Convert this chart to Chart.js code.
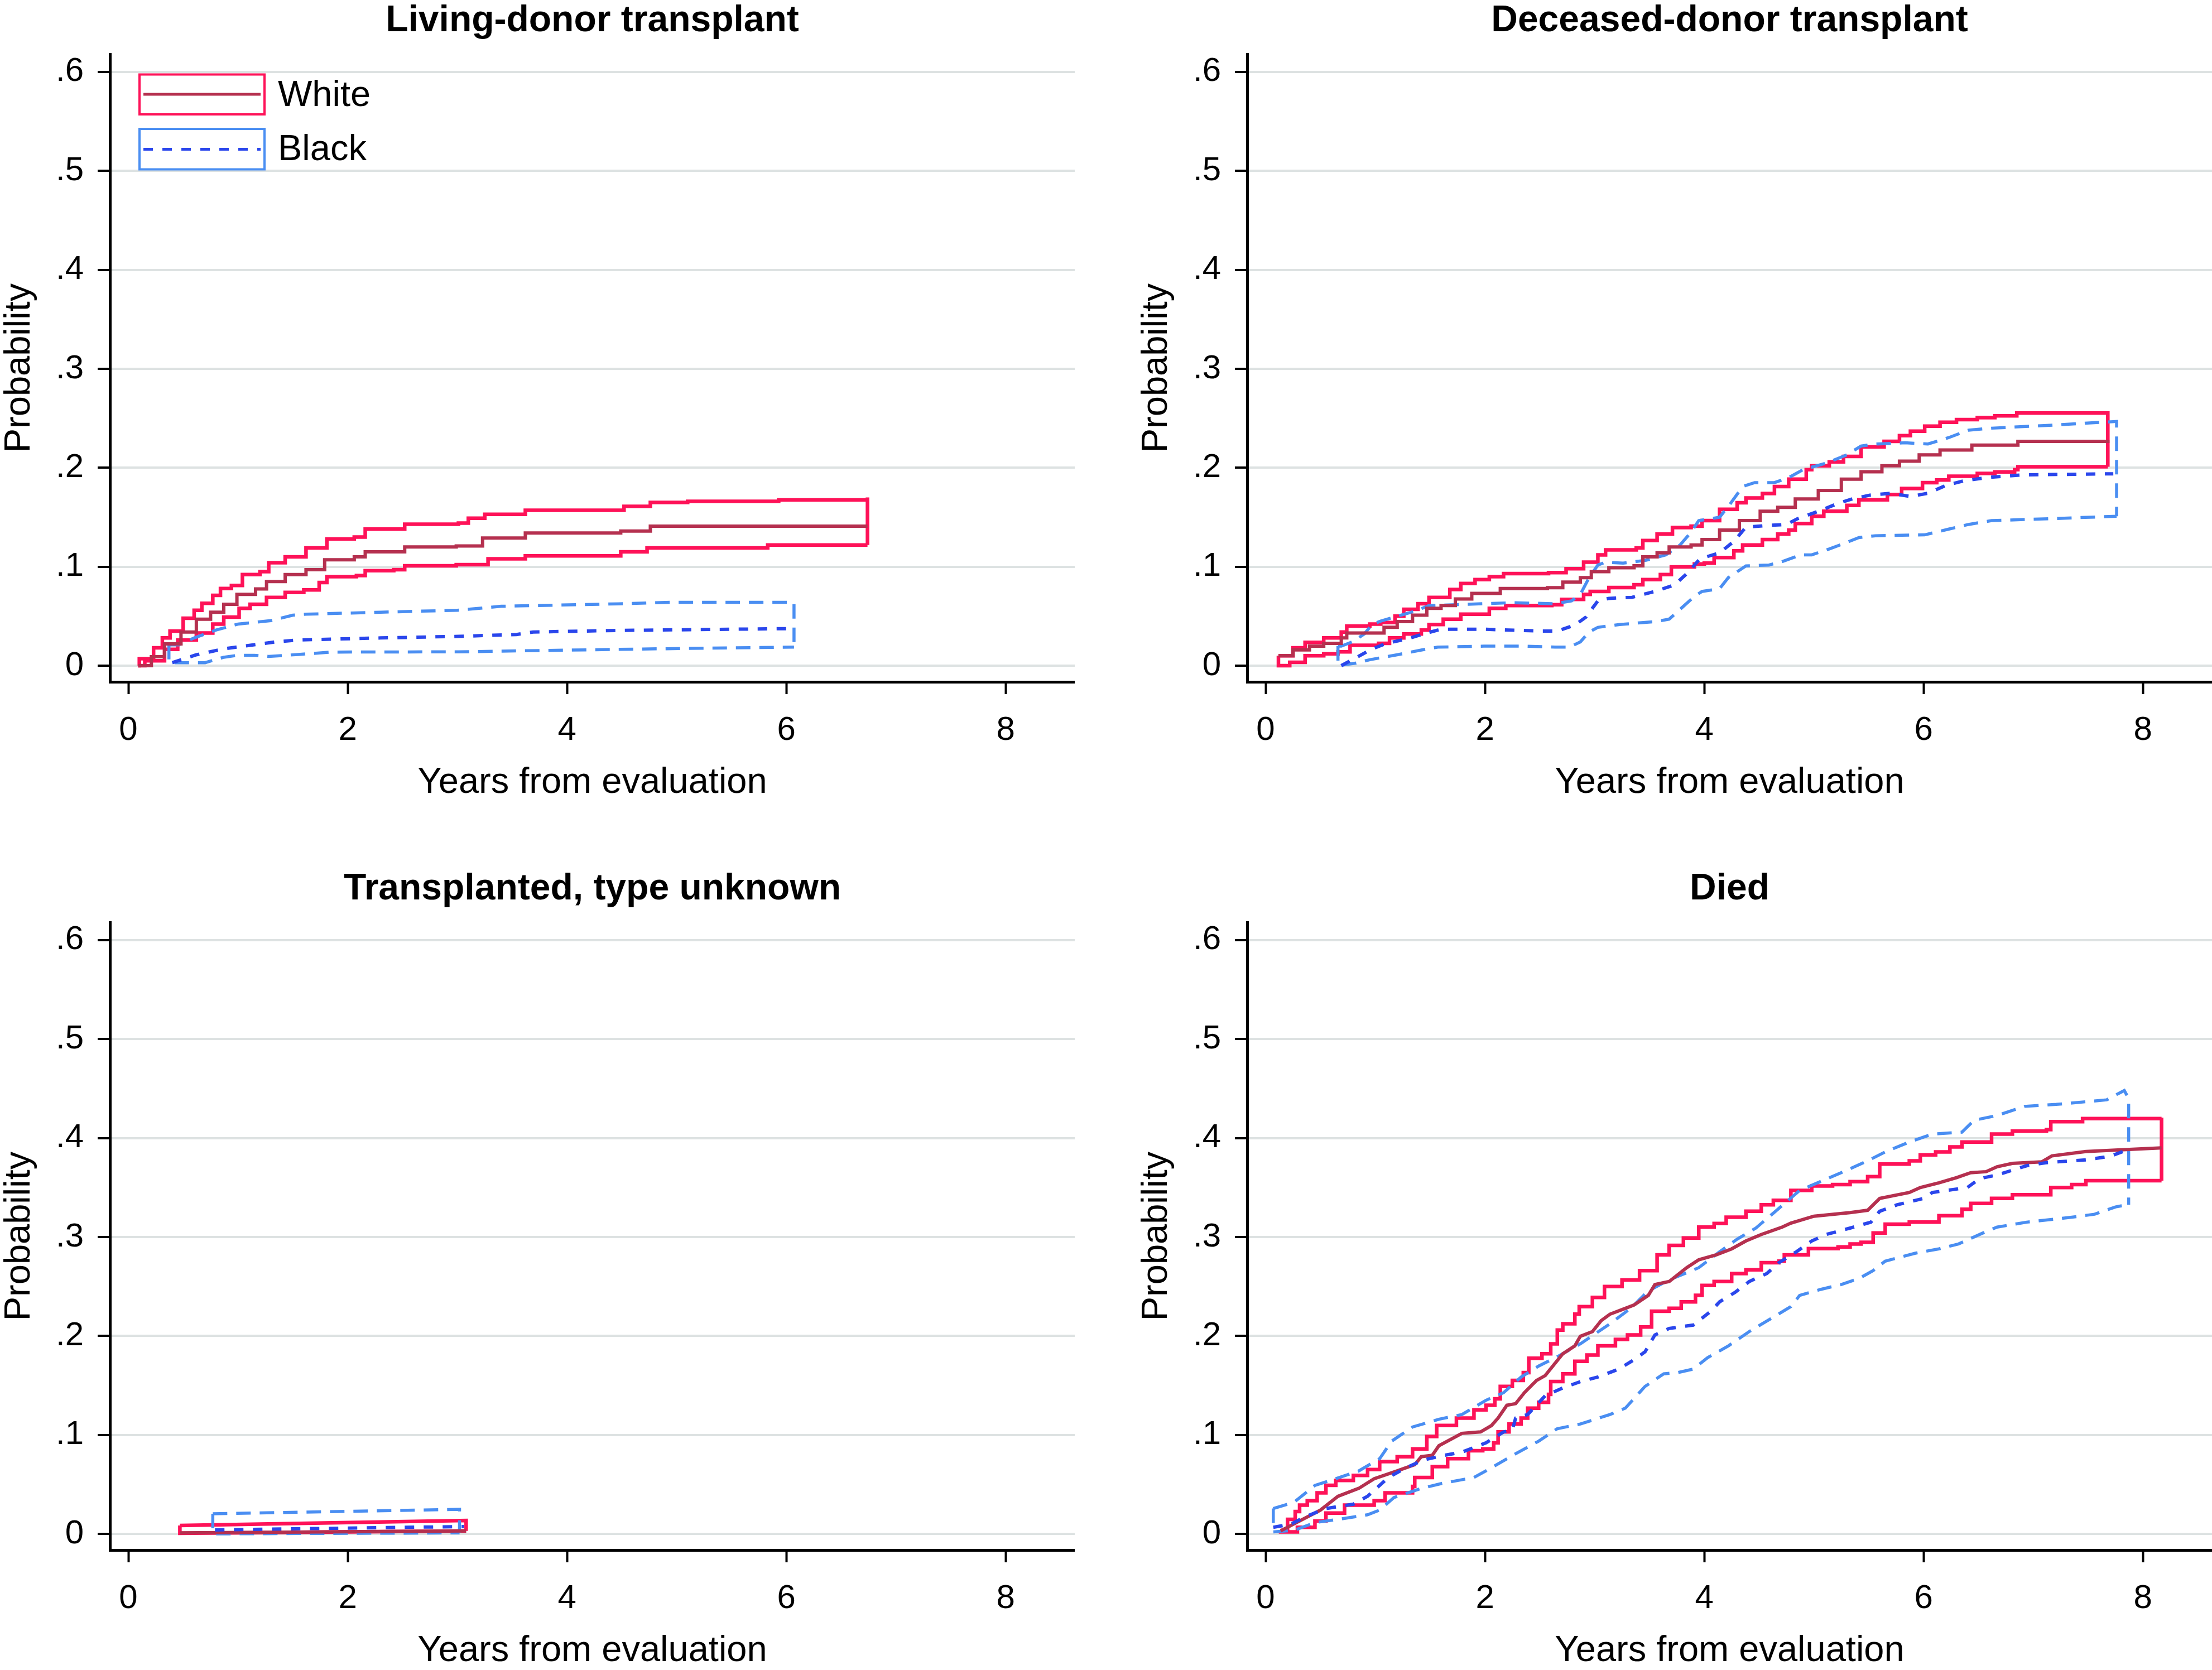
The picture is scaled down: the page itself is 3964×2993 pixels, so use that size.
<!DOCTYPE html>
<html>
<head>
<meta charset="utf-8">
<script src="https://cdn.jsdelivr.net/npm/chart.js@4.4.1/dist/chart.umd.min.js"></script>
<style>
  html, body { margin: 0; padding: 0; background: #fff; }
  body { width: 3964px; height: 2993px; position: relative; overflow: hidden; }
  canvas { position: absolute; }
</style>
</head>
<body>
<canvas id="panel-ld" width="1926" height="1437" style="left:0px;top:0px"></canvas>
<canvas id="panel-dd" width="1926" height="1437" style="left:2038px;top:0px"></canvas>
<canvas id="panel-unk" width="1926" height="1437" style="left:0px;top:1556px"></canvas>
<canvas id="panel-died" width="1926" height="1437" style="left:2038px;top:1556px"></canvas>
<script>
// Axis ticks shared by every panel
const xTicks = [0, 2, 4, 6, 8];
const yTicks = [0, 0.1, 0.2, 0.3, 0.4, 0.5, 0.6];
const yTickLabels = ['0', '.1', '.2', '.3', '.4', '.5', '.6'];
const seriesNames = ['White', 'Black'];
const panelTitles = ['Living-donor transplant', 'Deceased-donor transplant', 'Transplanted, type unknown', 'Died'];

// Living-donor transplant: [years, probability]
const ldWhiteUpper = [[0.09,0],[0.1,0.007],[0.23,0.018],[0.31,0.028],[0.38,0.035],[0.5,0.048],[0.6,0.056],[0.67,0.063],[0.77,0.071],[0.84,0.078],[0.94,0.081],[1.04,0.092],[1.2,0.095],[1.28,0.104],[1.43,0.110],[1.62,0.119],[1.81,0.128],[2.06,0.130],[2.16,0.138],[2.52,0.143],[3.01,0.144],[3.1,0.149],[3.25,0.153],[3.62,0.157],[4.52,0.161],[4.76,0.165],[5.1,0.166],[5.68,0.166],[5.93,0.1675],[6.74,0.170]];
const ldWhiteEst = [[0.09,0],[0.21,0.009],[0.33,0.022],[0.48,0.034],[0.62,0.047],[0.75,0.054],[0.87,0.062],[0.99,0.072],[1.16,0.0775],[1.26,0.085],[1.43,0.092],[1.62,0.097],[1.79,0.107],[2.06,0.110],[2.16,0.115],[2.52,0.120],[2.99,0.121],[3.23,0.129],[3.62,0.134],[4.49,0.136],[4.76,0.141],[6.74,0.141]];
const ldWhiteLower = [[0.09,0],[0.15,0.005],[0.33,0.0165],[0.45,0.026],[0.62,0.033],[0.77,0.042],[0.87,0.049],[1.01,0.058],[1.11,0.062],[1.26,0.069],[1.43,0.074],[1.6,0.0765],[1.74,0.084],[1.81,0.090],[2.08,0.091],[2.16,0.096],[2.42,0.097],[2.52,0.101],[2.99,0.102],[3.28,0.108],[3.62,0.111],[4.49,0.115],[4.73,0.119],[5.83,0.122],[6.74,0.122]];
const ldBlackUpper = [[0.36,0.021],[0.46,0.021],[0.6,0.028],[0.8,0.036],[1.0,0.042],[1.3,0.0455],[1.5,0.051],[1.62,0.052],[2.3,0.054],[3.0,0.056],[3.4,0.060],[4.47,0.0625],[4.95,0.064],[6.07,0.064]];
const ldBlackEst = [[0.40,0.003],[0.62,0.011],[0.87,0.017],[1.07,0.020],[1.34,0.024],[1.55,0.026],[2.3,0.028],[3.01,0.0296],[3.54,0.0315],[3.69,0.034],[4.47,0.0356],[6.07,0.0375]];
const ldBlackLower = [[0.37,0.003],[0.70,0.003],[0.87,0.0085],[1.0,0.0105],[1.15,0.0105],[1.28,0.0093],[1.55,0.0113],[1.85,0.0137],[3.01,0.014],[4.47,0.0165],[6.07,0.0188]];

// Deceased-donor transplant
const ddWhiteUpper = [[0.117,0.010],[0.25,0.018],[0.36,0.0235],[0.53,0.028],[0.69,0.034],[0.74,0.040],[0.95,0.042],[1.05,0.0435],[1.18,0.050],[1.26,0.057],[1.39,0.0626],[1.49,0.069],[1.68,0.077],[1.78,0.083],[1.91,0.087],[2.04,0.090],[2.17,0.093],[2.58,0.094],[2.74,0.098],[2.9,0.1046],[3.03,0.112],[3.1,0.117],[3.38,0.119],[3.44,0.1265],[3.57,0.133],[3.71,0.1395],[3.88,0.141],[3.98,0.1466],[4.14,0.158],[4.3,0.1647],[4.38,0.1695],[4.53,0.174],[4.64,0.181],[4.77,0.1885],[4.93,0.198],[4.98,0.202],[5.14,0.206],[5.27,0.2115],[5.43,0.221],[5.64,0.2267],[5.78,0.2324],[5.88,0.237],[6.01,0.242],[6.15,0.246],[6.3,0.2487],[6.49,0.2506],[6.65,0.2525],[6.85,0.2553],[7.68,0.2553]];
const ddWhiteEst = [[0.117,0.010],[0.25,0.016],[0.40,0.0197],[0.53,0.0225],[0.69,0.028],[0.74,0.033],[1.05,0.033],[1.08,0.0387],[1.2,0.0445],[1.34,0.051],[1.47,0.058],[1.6,0.0607],[1.73,0.0674],[1.88,0.073],[2.14,0.078],[2.57,0.0788],[2.71,0.0845],[2.87,0.089],[2.97,0.095],[3.13,0.099],[3.36,0.101],[3.44,0.110],[3.57,0.114],[3.68,0.120],[3.88,0.122],[3.98,0.1275],[4.14,0.137],[4.32,0.1466],[4.51,0.156],[4.67,0.16],[4.83,0.1685],[5.04,0.177],[5.25,0.1885],[5.43,0.196],[5.62,0.202],[5.78,0.2067],[5.96,0.213],[6.15,0.218],[6.44,0.2229],[6.86,0.2267],[7.68,0.2282]];
const ddWhiteLower = [[0.117,0],[0.22,0.0034],[0.36,0.010],[0.53,0.012],[0.66,0.014],[0.77,0.0206],[1.03,0.0225],[1.13,0.028],[1.26,0.032],[1.42,0.036],[1.49,0.0416],[1.62,0.047],[1.78,0.052],[2.04,0.058],[2.19,0.0607],[2.61,0.0616],[2.7,0.067],[2.9,0.072],[2.96,0.075],[3.13,0.079],[3.36,0.0817],[3.44,0.087],[3.6,0.092],[3.7,0.0998],[3.91,0.1027],[4.0,0.1036],[4.09,0.1093],[4.27,0.116],[4.35,0.122],[4.53,0.1275],[4.67,0.133],[4.77,0.137],[4.83,0.1437],[4.98,0.151],[5.09,0.156],[5.3,0.162],[5.41,0.1676],[5.67,0.173],[5.8,0.179],[5.99,0.185],[6.12,0.1876],[6.23,0.1914],[6.49,0.1943],[6.65,0.1958],[6.83,0.198],[6.86,0.201],[7.68,0.201]];
const ddBlackUpper = [[0.66,0.0197],[0.69,0.0197],[0.79,0.024],[0.9,0.032],[0.97,0.0416],[1.05,0.045],[1.2,0.050],[1.36,0.055],[1.49,0.0607],[1.73,0.0616],[2.25,0.0636],[2.64,0.0626],[2.79,0.0655],[2.87,0.072],[2.95,0.089],[3.03,0.1017],[3.1,0.1046],[3.26,0.1036],[3.47,0.1065],[3.65,0.112],[3.78,0.122],[3.88,0.135],[3.95,0.1466],[4.14,0.150],[4.24,0.164],[4.35,0.181],[4.46,0.185],[4.64,0.185],[4.77,0.190],[4.9,0.198],[5.12,0.205],[5.3,0.213],[5.43,0.222],[5.56,0.224],[5.83,0.2252],[6.04,0.224],[6.23,0.2305],[6.41,0.238],[6.62,0.240],[7.15,0.2429],[7.76,0.2468]];
const ddBlackEst = [[0.69,0.0],[0.79,0.006],[0.97,0.0168],[1.1,0.0225],[1.29,0.027],[1.47,0.033],[1.6,0.0368],[1.99,0.0368],[2.51,0.035],[2.66,0.035],[2.82,0.041],[2.92,0.049],[3.03,0.0655],[3.13,0.068],[3.34,0.069],[3.55,0.075],[3.73,0.0817],[3.86,0.095],[3.96,0.108],[4.14,0.114],[4.27,0.1256],[4.38,0.140],[4.59,0.1418],[4.75,0.1427],[4.85,0.1485],[5.04,0.156],[5.22,0.164],[5.35,0.1685],[5.51,0.1723],[5.7,0.1742],[5.88,0.171],[6.04,0.1742],[6.2,0.182],[6.36,0.1866],[6.57,0.190],[6.89,0.1927],[7.28,0.1933],[7.73,0.1939]];
const ddBlackLower = [[0.66,0],[0.82,0.0025],[0.95,0.006],[1.2,0.011],[1.42,0.0158],[1.57,0.0187],[1.99,0.0197],[2.38,0.0197],[2.64,0.0187],[2.77,0.0187],[2.87,0.024],[2.95,0.034],[3.03,0.0387],[3.23,0.0416],[3.55,0.0445],[3.68,0.047],[3.8,0.059],[3.91,0.070],[3.98,0.075],[4.14,0.0778],[4.22,0.089],[4.38,0.1008],[4.59,0.1017],[4.72,0.1055],[4.88,0.112],[4.98,0.112],[5.14,0.1179],[5.3,0.1246],[5.41,0.1294],[5.56,0.1313],[6.01,0.1322],[6.23,0.138],[6.41,0.1427],[6.62,0.1466],[7.15,0.1485],[7.76,0.151]];

// Transplanted, type unknown
const unkWhiteUpper = [[0.47,0.0085],[3.08,0.0135]];
const unkWhiteEst = [[0.47,0.001],[3.08,0.003]];
const unkWhiteLower = [[0.47,0.0006],[3.08,0.003]];
const unkBlackUpper = [[0.77,0.0203],[3.02,0.0248]];
const unkBlackEst = [[0.79,0.004],[3.06,0.0074]];
const unkBlackLower = [[0.77,0],[3.02,0.001]];

// Died
const diedWhiteUpper = [[0.137,0.0035],[0.2,0.0146],[0.27,0.0225],[0.31,0.029],[0.38,0.0335],[0.47,0.0415],[0.55,0.049],[0.64,0.054],[0.8,0.059],[0.93,0.065],[1.04,0.073],[1.2,0.078],[1.34,0.0858],[1.47,0.0984],[1.56,0.1095],[1.74,0.117],[1.9,0.1253],[2.01,0.130],[2.09,0.1364],[2.14,0.149],[2.25,0.155],[2.35,0.163],[2.4,0.1775],[2.52,0.182],[2.6,0.192],[2.66,0.206],[2.71,0.2123],[2.82,0.222],[2.86,0.2297],[2.98,0.239],[3.09,0.250],[3.25,0.2566],[3.41,0.266],[3.57,0.282],[3.68,0.2915],[3.81,0.299],[3.95,0.310],[4.09,0.3136],[4.2,0.320],[4.38,0.326],[4.52,0.3326],[4.63,0.337],[4.79,0.347],[4.98,0.3516],[5.17,0.353],[5.33,0.356],[5.49,0.361],[5.6,0.3737],[5.87,0.377],[5.97,0.383],[6.11,0.386],[6.24,0.391],[6.35,0.396],[6.62,0.404],[6.81,0.407],[7.12,0.4085],[7.16,0.4165],[7.45,0.4196],[8.17,0.4206]];
const diedWhiteEst = [[0.137,0.003],[0.31,0.013],[0.5,0.024],[0.66,0.038],[0.85,0.046],[0.99,0.0557],[1.2,0.0636],[1.36,0.070],[1.42,0.078],[1.52,0.0794],[1.58,0.089],[1.79,0.1016],[1.96,0.103],[2.06,0.1095],[2.12,0.117],[2.2,0.130],[2.28,0.1316],[2.36,0.1427],[2.47,0.155],[2.55,0.160],[2.63,0.171],[2.71,0.182],[2.82,0.190],[2.87,0.1997],[2.98,0.2044],[3.06,0.2155],[3.14,0.222],[3.25,0.2266],[3.36,0.2313],[3.49,0.241],[3.55,0.252],[3.68,0.255],[3.84,0.269],[3.95,0.277],[4.11,0.282],[4.25,0.288],[4.38,0.296],[4.52,0.3025],[4.71,0.310],[4.79,0.314],[5.0,0.321],[5.33,0.3247],[5.49,0.327],[5.6,0.339],[5.87,0.345],[5.97,0.35],[6.14,0.3547],[6.3,0.360],[6.43,0.365],[6.57,0.366],[6.67,0.371],[6.81,0.3744],[7.08,0.376],[7.17,0.382],[7.48,0.3864],[8.17,0.390]];
const diedWhiteLower = [[0.137,0.002],[0.29,0.0066],[0.45,0.013],[0.55,0.021],[0.72,0.029],[0.99,0.0335],[1.09,0.0415],[1.34,0.048],[1.36,0.057],[1.52,0.068],[1.66,0.076],[1.85,0.084],[1.98,0.0858],[2.08,0.092],[2.12,0.103],[2.22,0.111],[2.33,0.117],[2.39,0.127],[2.49,0.133],[2.58,0.141],[2.6,0.154],[2.71,0.1617],[2.82,0.1744],[2.93,0.1807],[3.03,0.190],[3.19,0.1965],[3.3,0.201],[3.42,0.209],[3.52,0.225],[3.68,0.228],[3.79,0.2345],[3.92,0.241],[3.98,0.251],[4.09,0.255],[4.25,0.263],[4.38,0.2668],[4.52,0.274],[4.68,0.2756],[4.73,0.282],[4.95,0.2883],[5.22,0.29],[5.33,0.293],[5.43,0.2946],[5.54,0.304],[5.65,0.313],[5.87,0.315],[6.14,0.3215],[6.35,0.328],[6.43,0.334],[6.62,0.339],[6.81,0.3427],[7.09,0.3427],[7.16,0.350],[7.35,0.353],[7.48,0.357],[8.17,0.357]];
const diedBlackUpper = [[0.07,0.0256],[0.26,0.032],[0.45,0.049],[0.64,0.0557],[0.85,0.0636],[1.04,0.076],[1.15,0.0937],[1.34,0.108],[1.58,0.1158],[1.79,0.1206],[2.01,0.135],[2.17,0.1427],[2.33,0.1585],[2.49,0.1696],[2.66,0.179],[2.87,0.192],[3.14,0.2123],[3.33,0.228],[3.49,0.2456],[3.68,0.2566],[3.95,0.269],[4.14,0.285],[4.3,0.2978],[4.47,0.309],[4.65,0.326],[4.87,0.347],[5.06,0.356],[5.27,0.366],[5.49,0.377],[5.65,0.386],[5.87,0.396],[6.08,0.404],[6.35,0.406],[6.46,0.418],[6.67,0.4228],[6.92,0.432],[7.21,0.434],[7.67,0.4386],[7.75,0.4434],[7.83,0.448],[7.87,0.44]];
const diedBlackEst = [[0.07,0.0066],[0.23,0.0098],[0.37,0.0177],[0.55,0.0256],[0.8,0.030],[0.93,0.038],[1.12,0.057],[1.28,0.0668],[1.44,0.0747],[1.63,0.0794],[1.79,0.0826],[2.01,0.092],[2.17,0.103],[2.25,0.1047],[2.28,0.117],[2.39,0.1206],[2.55,0.1396],[2.71,0.1475],[2.87,0.1538],[3.03,0.1585],[3.22,0.1665],[3.36,0.176],[3.46,0.184],[3.55,0.201],[3.68,0.2076],[3.9,0.211],[4.06,0.225],[4.14,0.2345],[4.28,0.244],[4.41,0.255],[4.57,0.263],[4.68,0.274],[4.84,0.285],[4.98,0.296],[5.11,0.3025],[5.33,0.309],[5.52,0.315],[5.6,0.326],[5.76,0.3326],[6.0,0.339],[6.08,0.345],[6.4,0.350],[6.51,0.359],[6.67,0.3627],[6.94,0.372],[7.11,0.375],[7.48,0.378],[7.7,0.3816],[7.86,0.388]];
const diedBlackLower = [[0.07,0.002],[0.26,0.0035],[0.45,0.0114],[0.66,0.0146],[0.93,0.0193],[1.04,0.024],[1.17,0.0367],[1.42,0.046],[1.61,0.051],[1.9,0.057],[2.06,0.0668],[2.28,0.081],[2.49,0.0937],[2.66,0.1063],[2.87,0.111],[3.14,0.1206],[3.28,0.127],[3.46,0.149],[3.63,0.1617],[3.76,0.163],[3.9,0.1665],[4.03,0.178],[4.22,0.190],[4.41,0.2044],[4.6,0.217],[4.79,0.2297],[4.87,0.241],[5.06,0.247],[5.25,0.252],[5.41,0.258],[5.54,0.266],[5.65,0.2756],[5.92,0.2835],[6.14,0.288],[6.32,0.293],[6.54,0.304],[6.67,0.310],[6.94,0.315],[7.35,0.320],[7.56,0.323],[7.75,0.3304],[7.86,0.3326]];

const whiteCIColor = '#fe1258';
const whiteEstColor = '#b5304f';
const blackCIColor = '#4a8ef2';
const blackEstColor = '#2a46ec';
const gridColor = '#dde2e2';
const fontFamily = "'Liberation Sans', Arial, Helvetica, sans-serif";

Chart.defaults.font.family = fontFamily;
Chart.defaults.color = '#000';

function toPoints(pairs) {
  return pairs.map(p => ({ x: p[0], y: p[1] }));
}

function lineSet(points, color, width, dash, stepped) {
  return {
    data: points,
    borderColor: color,
    borderWidth: width,
    borderDash: dash,
    stepped: stepped,
    pointRadius: 0,
    fill: false,
    tension: 0
  };
}

// CI drawn as an outline: upper bound closed down to the last lower value,
// lower bound opened from the first upper value
function ciSets(upper, lower, color, width, dash, stepped) {
  let top = toPoints(upper.concat([[upper[upper.length - 1][0], lower[lower.length - 1][1]]]));
  let bottom = toPoints([[lower[0][0], upper[0][1]]].concat(lower));
  return [lineSet(top, color, width, dash, stepped), lineSet(bottom, color, width, dash, stepped)];
}

function buildDatasets(s, whiteStepped, whiteEstStepped) {
  let sets = [];
  sets.push(lineSet(toPoints(s.blackEst), blackEstColor, 6, [17, 17], false));
  sets.push(lineSet(toPoints(s.whiteEst), whiteEstColor, 6, [], whiteEstStepped));
  sets = sets.concat(ciSets(s.blackUpper, s.blackLower, blackCIColor, 5.5, [26, 16], false));
  sets = sets.concat(ciSets(s.whiteUpper, s.whiteLower, whiteCIColor, 6.5, [], whiteStepped));
  return sets;
}

const legendPlugin = {
  id: 'cornerLegend',
  afterDraw(chart) {
    const ctx = chart.ctx;
    ctx.save();
    ctx.lineWidth = 4;
    ctx.setLineDash([]);
    ctx.strokeStyle = whiteCIColor;
    ctx.strokeRect(250, 133.5, 224, 71.5);
    ctx.strokeStyle = blackCIColor;
    ctx.strokeRect(250, 231, 224, 72.5);
    ctx.lineWidth = 5;
    ctx.strokeStyle = whiteEstColor;
    ctx.beginPath();
    ctx.moveTo(257, 169);
    ctx.lineTo(467, 169);
    ctx.stroke();
    ctx.strokeStyle = blackEstColor;
    ctx.setLineDash([17, 17]);
    ctx.beginPath();
    ctx.moveTo(257, 267.5);
    ctx.lineTo(467, 267.5);
    ctx.stroke();
    ctx.setLineDash([]);
    ctx.fillStyle = '#000';
    ctx.font = '65px ' + fontFamily;
    ctx.textBaseline = 'alphabetic';
    ctx.textAlign = 'left';
    ctx.fillText(seriesNames[0], 498, 190);
    ctx.fillText(seriesNames[1], 498, 287);
    ctx.restore();
  }
};

function makePanel(canvasId, title, datasets, withLegend) {
  return new Chart(document.getElementById(canvasId), {
    type: 'line',
    data: { datasets: datasets },
    options: {
      responsive: false,
      animation: false,
      layout: { padding: 0 },
      plugins: {
        legend: { display: false },
        tooltip: { enabled: false },
        title: {
          display: true,
          text: title,
          fullSize: false,
          color: '#000',
          font: { size: 66, weight: 'bold', lineHeight: 1 },
          padding: { top: 5, bottom: 26 }
        }
      },
      scales: {
        x: {
          type: 'linear',
          min: -0.168,
          max: 8.63,
          afterBuildTicks: scale => { scale.ticks = xTicks.map(v => ({ value: v })); },
          afterFit: scale => { scale.height = 215; scale.paddingLeft = 0; scale.paddingRight = 0; },
          grid: { drawOnChartArea: false, tickLength: 22, tickColor: '#000', tickWidth: 4 },
          border: { display: true, color: '#000', width: 5 },
          ticks: { font: { size: 60 }, color: '#000', padding: 29, maxRotation: 0, autoSkip: false },
          title: { display: true, text: 'Years from evaluation', color: '#000', font: { size: 65, lineHeight: 1.05 }, padding: 0 }
        },
        y: {
          type: 'linear',
          min: -0.01635,
          max: 0.618,
          afterBuildTicks: scale => { scale.ticks = yTicks.map(v => ({ value: v })); },
          afterFit: scale => { scale.width = 197; scale.paddingTop = 0; scale.paddingBottom = 0; },
          grid: { color: gridColor, lineWidth: 4, tickLength: 22, tickColor: '#000', tickWidth: 4 },
          border: { display: true, color: '#000', width: 5 },
          ticks: {
            font: { size: 60 },
            color: '#000',
            padding: 25,
            autoSkip: false,
            callback: (value) => yTickLabels[yTicks.findIndex(t => Math.abs(t - value) < 1e-9)]
          },
          title: { display: true, text: 'Probability', color: '#000', font: { size: 65, lineHeight: 1 }, padding: { top: 3, bottom: 0 } }
        }
      }
    },
    plugins: withLegend ? [legendPlugin] : []
  });
}

makePanel('panel-ld', panelTitles[0], buildDatasets({
  whiteUpper: ldWhiteUpper, whiteEst: ldWhiteEst, whiteLower: ldWhiteLower,
  blackUpper: ldBlackUpper, blackEst: ldBlackEst, blackLower: ldBlackLower
}, true, true), true);

makePanel('panel-dd', panelTitles[1], buildDatasets({
  whiteUpper: ddWhiteUpper, whiteEst: ddWhiteEst, whiteLower: ddWhiteLower,
  blackUpper: ddBlackUpper, blackEst: ddBlackEst, blackLower: ddBlackLower
}, true, true), false);

makePanel('panel-unk', panelTitles[2], buildDatasets({
  whiteUpper: unkWhiteUpper, whiteEst: unkWhiteEst, whiteLower: unkWhiteLower,
  blackUpper: unkBlackUpper, blackEst: unkBlackEst, blackLower: unkBlackLower
}, false, false), false);

makePanel('panel-died', panelTitles[3], buildDatasets({
  whiteUpper: diedWhiteUpper, whiteEst: diedWhiteEst, whiteLower: diedWhiteLower,
  blackUpper: diedBlackUpper, blackEst: diedBlackEst, blackLower: diedBlackLower
}, true, false), false);
</script>
</body>
</html>
